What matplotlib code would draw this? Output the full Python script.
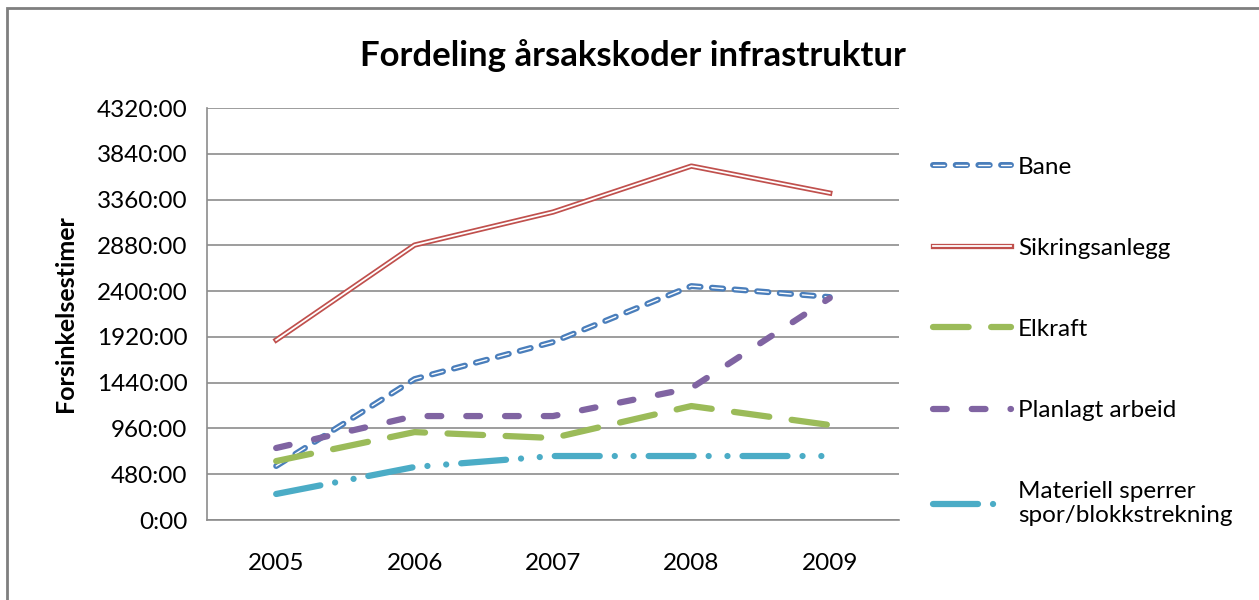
import matplotlib
matplotlib.use("Agg")
import matplotlib.pyplot as plt
import matplotlib.patheffects as pe
from matplotlib.patches import Rectangle

plt.rcParams['font.family'] = ['Lato', 'DejaVu Sans']

years = ["2005", "2006", "2007", "2008", "2009"]
# delay hours per cause
bane = [566, 1478, 1866, 2453, 2338]
sikring = [1887, 2883, 3229, 3711, 3428]
elkraft = [618, 922, 860, 1195, 996]
planlagt = [755, 1090, 1090, 1384, 2327]
materiell = [273, 556, 671, 671, 671]
yticks = list(range(0, 4321, 480))

fig = plt.figure(figsize=(12.59, 6), dpi=100)
ax = fig.add_axes([0.1644, 0.1333, 0.5496, 0.6867])

x = range(1, len(years) + 1)
double = [pe.Normal(), pe.Stroke(linewidth=1.3, foreground="white")]
double_thin = [pe.Normal(), pe.Stroke(linewidth=1.0, foreground="white")]

ax.plot(x, bane, color="#4a7ebb", lw=4.3, ls=(0, (1.9, 1.9)),
        dash_capstyle="round", path_effects=double_thin, label="Bane")
ax.plot(x, sikring, color="#c0504d", lw=3.8, path_effects=double,
        label="Sikringsanlegg")
ax.plot(x, elkraft, color="#9bbb59", lw=4.5, ls=(0, (5.7, 3.6)),
        dash_capstyle="round", label="Elkraft")
ax.plot(x, planlagt, color="#8064a2", lw=4.5, ls=(0, (2.2, 4)),
        dash_capstyle="round", label="Planlagt arbeid")
ax.plot(x, materiell, color="#4bacc6", lw=4.5,
        ls=(0, (7.2, 2.4, 0.01, 3.0, 0.01, 2.4)),
        dash_capstyle="round", label="Materiell sperrer\nspor/blokkstrekning")

ax.set_xlim(0.5, 5.5)
ax.set_ylim(0, 4320)
ax.set_xticks(list(x))
ax.set_xticklabels(years)
ax.set_yticks(yticks)
ax.set_yticklabels([f"{v}:00" for v in yticks])
ax.tick_params(axis="both", length=0, labelsize=17.5)
ax.tick_params(axis="x", pad=24)
ax.tick_params(axis="y", pad=14)
ax.grid(axis="y", color="#8c8c8c", lw=1.2)
ax.set_axisbelow(True)
for s in ["top", "right"]:
    ax.spines[s].set_visible(False)
for s in ["left", "bottom"]:
    ax.spines[s].set_color("#8c8c8c")
    ax.spines[s].set_linewidth(1.2)

ax.set_ylabel("Forsinkelsestimer", fontsize=18, fontweight="bold", labelpad=14)
fig.text(0.503, 0.908, "Fordeling årsakskoder infrastruktur", ha="center",
         va="center", fontsize=25, fontweight="bold")

fig.legend(loc="upper left", bbox_to_anchor=(0.7236, 0.775), frameon=False,
           fontsize=17.5, handlelength=3.2, labelspacing=2.47, handletextpad=0.3)

fig.patches.append(Rectangle((0.0056, -0.1), 1.1, 1.087, transform=fig.transFigure,
                             fill=False, edgecolor="#7f7f7f", lw=2))

fig.savefig("out.png", dpi=100)
